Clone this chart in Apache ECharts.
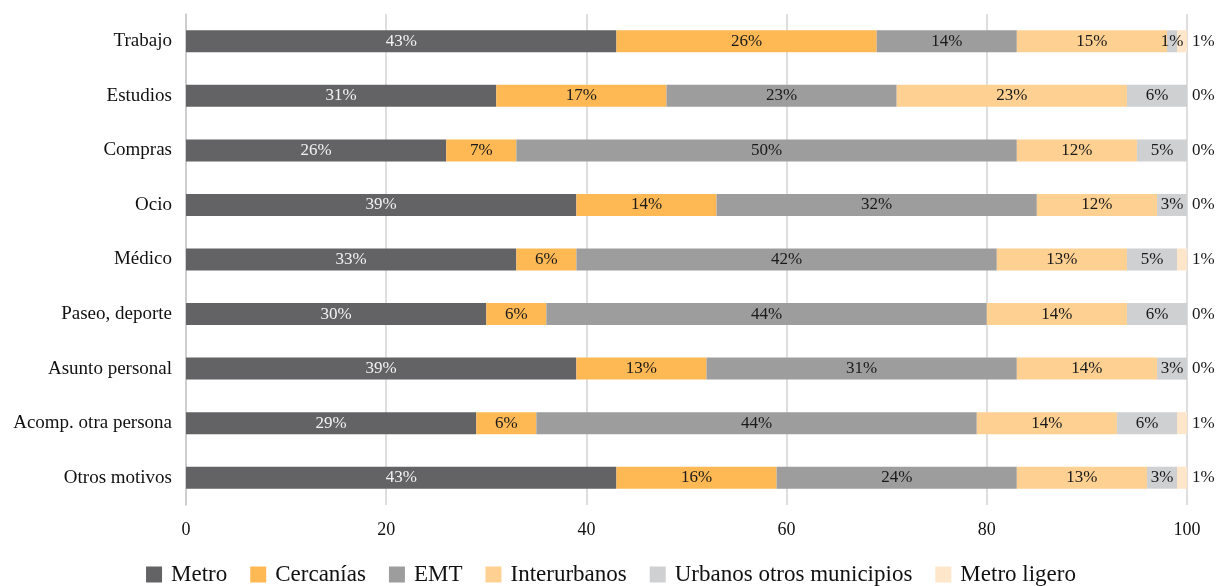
<!DOCTYPE html>
<html>
<head>
<meta charset="utf-8">
<script src="https://cdn.jsdelivr.net/npm/echarts@6/dist/echarts.min.js"></script>
<style>
  html, body { margin: 0; padding: 0; background: #fff; }
  #chart { width: 1222px; height: 586px; }
</style>
</head>
<body>
<div id="chart"></div>
<script>
// Motivos de viaje (de arriba abajo)
const categories = ['Trabajo', 'Estudios', 'Compras', 'Ocio', 'Médico', 'Paseo, deporte',
  'Asunto personal', 'Acomp. otra persona', 'Otros motivos'];

// Reparto modal por motivo (%)
const metro        = [43, 31, 26, 39, 33, 30, 39, 29, 43];
const cercanias    = [26, 17, 7, 14, 6, 6, 13, 6, 16];
const emt          = [14, 23, 50, 32, 42, 44, 31, 44, 24];
const interurbanos = [15, 23, 12, 12, 13, 14, 14, 14, 13];
const urbanosOtros = [1, 6, 5, 3, 5, 6, 3, 6, 3];
const metroLigero  = [1, 0, 0, 0, 1, 0, 0, 1, 1];

const xTicks = [0, 20, 40, 60, 80, 100];

const FONT = "'Liberation Serif', 'DejaVu Serif', serif";

function barSeries(name, data, color, labelColor, labelPos) {
  return {
    name: name,
    type: 'bar',
    stack: 'total',
    data: data,
    barWidth: 22,
    itemStyle: { color: color },
    label: {
      show: true,
      position: labelPos || 'inside',
      distance: 5,
      color: labelColor,
      fontFamily: FONT,
      fontSize: 17,
      formatter: p => p.value + '%'
    },
    emphasis: { disabled: true }
  };
}

const chart = echarts.init(document.getElementById('chart'));
chart.setOption({
  animation: false,
  backgroundColor: '#fff',
  textStyle: { fontFamily: FONT },
  grid: { left: 186, right: 35, top: 14, bottom: 81, containLabel: false },
  xAxis: {
    type: 'value',
    min: xTicks[0],
    max: xTicks[xTicks.length - 1],
    interval: 20,
    axisLine: { show: false },
    axisTick: { show: false },
    splitLine: { lineStyle: { color: '#d3d3d3', width: 1.5 } },
    axisLabel: { color: '#111', fontFamily: FONT, fontSize: 18, margin: 16 }
  },
  yAxis: {
    type: 'category',
    data: categories,
    inverse: true,
    axisLine: { show: true, lineStyle: { color: '#c8c8c8', width: 1.5 } },
    axisTick: { show: false },
    axisLabel: { color: '#111', fontFamily: FONT, fontSize: 19, margin: 14 }
  },
  legend: {
    top: 558,
    left: 'center',
    itemWidth: 16,
    itemHeight: 16,
    itemGap: 23,
    icon: 'rect',
    textStyle: { color: '#111', fontFamily: FONT, fontSize: 23, padding: [0, 0, 0, 4] },
    data: ['Metro', 'Cercanías', 'EMT', 'Interurbanos', 'Urbanos otros municipios', 'Metro ligero']
  },
  series: [
    barSeries('Metro', metro, '#636365', '#f2f2f2'),
    barSeries('Cercanías', cercanias, '#feb854', '#1a1a1a'),
    barSeries('EMT', emt, '#9d9d9e', '#1a1a1a'),
    barSeries('Interurbanos', interurbanos, '#fed092', '#1a1a1a'),
    barSeries('Urbanos otros municipios', urbanosOtros, '#cfd0d2', '#1a1a1a'),
    barSeries('Metro ligero', metroLigero, '#fde6c9', '#1a1a1a', 'right')
  ]
});
</script>
</body>
</html>
